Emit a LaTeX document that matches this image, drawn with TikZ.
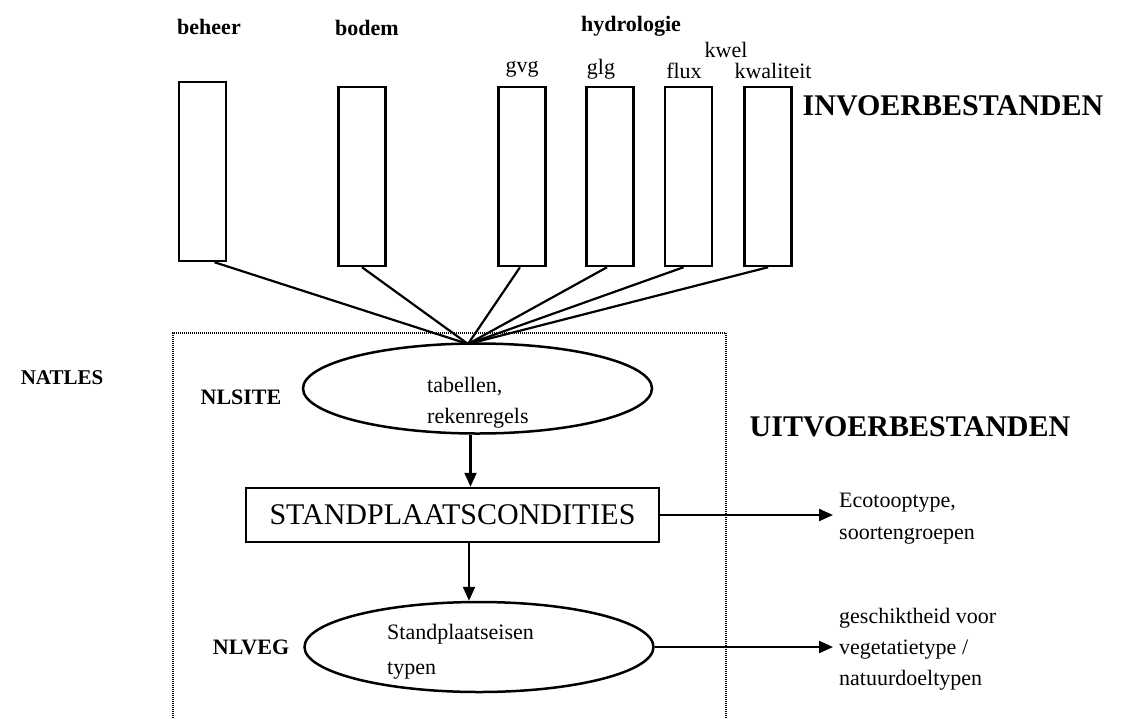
\documentclass[tikz,border=0pt]{standalone}
\usepackage{fontspec}
\setmainfont{Liberation Serif}
\usetikzlibrary{arrows.meta,shapes.geometric,calc}
\begin{document}
\begin{tikzpicture}[x=1pt,y=-1pt,
  filebox/.style={draw,line width=2.5pt,minimum width=47pt,minimum height=179pt,inner sep=0pt},
  conn/.style={line width=2.2pt},
  arr/.style={line width=2.2pt,-{Triangle[length=14pt,width=12pt]}},
  oval/.style={draw,ellipse,line width=2.5pt,minimum width=349pt,minimum height=90pt,inner sep=0pt},
  blab/.style={font=\fontsize{22}{26}\selectfont\bfseries,inner sep=0pt},
  slab/.style={font=\fontsize{22}{26}\selectfont,inner sep=0pt},
  big/.style={font=\fontsize{30}{34}\selectfont\bfseries,inner sep=0pt},
  body/.style={font=\fontsize{22}{31}\selectfont,inner sep=0pt,align=left,anchor=west},
  dotbox/.style={line width=1.5pt,dash pattern=on 1pt off 1pt}
]
\useasboundingbox (0,0) rectangle (1121,718);

% top labels
\node[blab] (lbeheer) at (209,27) {beheer};
\node[blab] (lbodem) at (367,28) {bodem};
\node[blab] (lhydro) at (631,26) {hydrologie};
\node[slab] (lgvg) at (522,69) {gvg};
\node[slab] (lglg) at (601,69) {glg};
\node[slab] (lflux) at (684,71) {flux};
\node[slab] (lkwel) at (726,50) {kwel};
\node[slab] (lkwal) at (773,71) {kwaliteit};
\node[big] (invoer) at (953,106) {INVOERBESTANDEN};

% input file boxes
\node[filebox] (b1) at (202.5,171.5) {};
\node[filebox] (b2) at (362,176.5) {};
\node[filebox] (b3) at (522,176.5) {};
\node[filebox] (b4) at (610,176.5) {};
\node[filebox] (b5) at (688.5,176.5) {};
\node[filebox] (b6) at (768,176.5) {};

% dotted NATLES frame
\draw[dotbox] (173,720) -- (173,333) -- (726,333) -- (726,720);
\node[blab,font=\fontsize{21}{25}\selectfont\bfseries] (natles) at (62,378) {NATLES};

% NLSITE
\node[oval] (e1) at (477.5,388.5) {};
\node[body] (t1) at (427,403) {tabellen,\\rekenregels};
\node[blab] (nlsite) at (241,397) {NLSITE};
\coordinate (conv) at (468,344);

\draw[conn] ([xshift=12pt]b1.south) -- (conv);
\draw[conn] (b2.south) -- (conv);
\draw[conn] ([xshift=-2pt]b3.south) -- (conv);
\draw[conn] ([xshift=-3pt]b4.south) -- (conv);
\draw[conn] ([xshift=-5pt]b5.south) -- (conv);
\draw[conn] (b6.south) -- (conv);

% STANDPLAATSCONDITIES
\node[draw,line width=2.5pt,minimum width=413pt,minimum height=54pt,inner sep=0pt,
      font=\fontsize{30}{34}\selectfont] (sc) at (452.5,515) {STANDPLAATSCONDITIES};
\draw[arr] ([xshift=-7pt]e1.south) -- ([xshift=-7pt]e1.south |- sc.north);

% NLVEG
\node[oval] (e2) at (479,647) {};
\node[body] (t2) at (387,652) {Standplaatseisen\\[4pt]typen};
\node[blab] (nlveg) at (251,647) {NLVEG};
\draw[arr] ([xshift=-10pt]e2.north |- sc.south) -- ([xshift=-10pt]e2.north);

% outputs
\node[big] (uitvoer) at (910,427) {UITVOERBESTANDEN};
\node[body,font=\fontsize{22}{32}\selectfont,inner xsep=6pt] (o1) at (833,519) {Ecotooptype,\\soortengroepen};
\node[body,font=\fontsize{22}{31}\selectfont,inner xsep=6pt] (o2) at (833,649) {geschiktheid voor\\vegetatietype /\\natuurdoeltypen};
\draw[arr] (sc.east) -- (sc.east -| o1.west);
\draw[arr] (e2.east) -- (e2.east -| o2.west);
\end{tikzpicture}
\end{document}
